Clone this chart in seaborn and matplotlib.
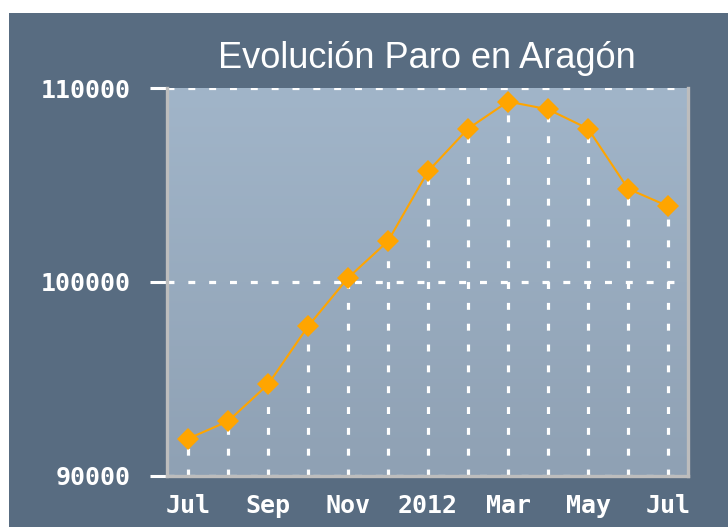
import numpy as np
import pandas as pd
import seaborn as sns
import matplotlib.pyplot as plt
from matplotlib.colors import LinearSegmentedColormap
from matplotlib.patches import Rectangle

# Data: paro registrado en Aragón, jul 2011 - jul 2012
months = ["Jul", "Aug", "Sep", "Oct", "Nov", "Dec", "2012",
          "Feb", "Mar", "Apr", "May", "Jun", "Jul"]
paro = [91900, 92800, 94700, 97700, 100200, 102100, 105700,
        107900, 109300, 108900, 107900, 104800, 103900]
tick_labels = ["Jul", "Sep", "Nov", "2012", "Mar", "May", "Jul"]
y_ticks = [90000, 100000, 110000]

df = pd.DataFrame({"mes": np.arange(len(months)), "paro": paro})

panel = "#586c81"
plt.rcParams["lines.scale_dashes"] = False

fig = plt.figure(figsize=(7.28, 5.27), dpi=100)
fig.patch.set_facecolor("white")
fig.patches.append(Rectangle((9 / 728, 0), 1, 1 - 13 / 527, transform=fig.transFigure,
                             facecolor=panel, edgecolor="none", zorder=-10))

ax = fig.add_axes([0.2294, 0.0977, 0.7163, 0.7353])
ax.set_facecolor("none")

# gradient background of plot area
cmap = LinearSegmentedColormap.from_list("bg", ["#8fa1b4", "#a1b5c9"])
ax.imshow(np.linspace(0, 1, 256)[:, None], extent=[0, 1, 0, 1], origin="lower",
          transform=ax.transAxes, aspect="auto", cmap=cmap, zorder=0)

# drop lines from each point
ax.vlines(df["mes"], 90000, df["paro"], colors="white", linewidth=2.3,
          linestyles=(0, (5, 10)), zorder=1)

sns.lineplot(data=df, x="mes", y="paro", ax=ax, color="#ffa500", linewidth=1.5,
             marker="D", markersize=11, markeredgewidth=0, zorder=3)

ax.set_xlim(-0.525, 12.51)
ax.set_ylim(90000, 110000)
ax.set_yticks(y_ticks)
ax.set_yticklabels([str(v) for v in y_ticks])
ax.set_xticks(df["mes"][::2])
ax.set_xticklabels(tick_labels)
ax.set_xlabel("")
ax.set_ylabel("")

ax.yaxis.grid(True, color="white", linewidth=2.3, linestyle=(0, (5, 10)), zorder=1)
ax.set_axisbelow(False)

for side in ["left", "bottom", "right"]:
    ax.spines[side].set_color("#bdbdbd")
    ax.spines[side].set_linewidth(2.4)
    ax.spines[side].set_zorder(5)
ax.spines["top"].set_visible(False)

ax.tick_params(axis="y", length=12, width=2.2, color="white", pad=14,
               labelcolor="white", labelsize=18)
ax.tick_params(axis="x", length=0, pad=13, labelcolor="white", labelsize=18)
for lab in ax.get_xticklabels() + ax.get_yticklabels():
    lab.set_family("DejaVu Sans Mono")
    lab.set_weight("bold")

fig.text(427 / 728, 1 - 68 / 527, "Evolución Paro en Aragón", ha="center",
         va="baseline", color="white", fontsize=26, family="Liberation Sans")

fig.savefig("out.png", dpi=100, facecolor=fig.get_facecolor())
